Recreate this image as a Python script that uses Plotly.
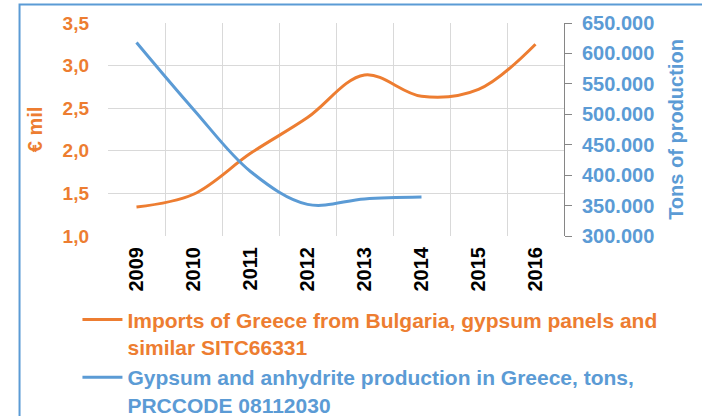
import plotly.graph_objects as go

years = ["2009", "2010", "2011", "2012", "2013", "2014", "2015", "2016"]
imports_eur_mil = [1.34, 1.49, 1.97, 2.39, 2.89, 2.64, 2.72, 3.25]
prod_years = ["2009", "2010", "2011", "2012", "2013", "2014"]
production_tons = [618000, 508000, 406000, 352000, 361000, 364000]

ORANGE = "#ED7D31"
BLUE = "#5B9BD5"
FONT = "Liberation Sans"

name1 = "<span style='color:%s'>Imports of Greece from Bulgaria, gypsum panels and<br>similar SITC66331</span>" % ORANGE
name2 = "<span style='color:%s'>Gypsum and anhydrite production in Greece, tons,<br>PRCCODE 08112030</span>" % BLUE

fig = go.Figure()
fig.add_trace(go.Scatter(
    x=years, y=imports_eur_mil, mode="lines", name=name1,
    line=dict(color=ORANGE, width=3, shape="spline", smoothing=1.0),
    yaxis="y",
))
fig.add_trace(go.Scatter(
    x=prod_years, y=production_tons, mode="lines", name=name2,
    line=dict(color=BLUE, width=3, shape="spline", smoothing=1.0),
    yaxis="y2",
))

fig.update_layout(
    width=702, height=416,
    margin=dict(l=108, r=138, t=23, b=180, autoexpand=False),
    paper_bgcolor="white", plot_bgcolor="white",
    separators=",.",
    font=dict(family=FONT, size=20, color="black", weight="bold"),
    showlegend=True,
    legend=dict(
        x=-0.067, y=-0.298, xanchor="left", yanchor="top",
        font=dict(family=FONT, size=21, weight="bold"),
        bgcolor="rgba(0,0,0,0)", borderwidth=0,
        tracegroupgap=0, valign="top", itemwidth=40,
    ),
    xaxis=dict(
        type="category", categoryorder="array", categoryarray=years,
        range=[-0.5, 7.5], automargin=False,
        tickson="boundaries", ticks="",
        showgrid=True, gridcolor="#D9D9D9", gridwidth=1,
        showline=False, zeroline=False,
        tickangle=-90, ticklabelstandoff=6,
        tickfont=dict(family=FONT, size=20, color="black", weight="bold"),
    ),
    yaxis=dict(
        range=[1, 3.5], dtick=0.5, tick0=1, tickformat=".1f", automargin=False,
        showgrid=True, gridcolor="#D9D9D9", gridwidth=1,
        showline=False, zeroline=False, ticks="",
        ticklabelstandoff=18,
        tickfont=dict(family=FONT, size=19, color=ORANGE, weight="bold"),
        title=dict(text="€ mil", standoff=14,
                   font=dict(family=FONT, size=20, color=ORANGE, weight="bold")),
    ),
    yaxis2=dict(
        range=[300000, 650000], dtick=50000, tick0=300000, tickformat=",.0f",
        overlaying="y", side="right", automargin=False,
        showgrid=False, zeroline=False,
        showline=True, linecolor="#868686", linewidth=1,
        ticks="outside", ticklen=7, tickcolor="#868686",
        ticklabelstandoff=6,
        tickfont=dict(family=FONT, size=20, color=BLUE, weight="bold"),
        title=dict(text="Tons of production", standoff=15,
                   font=dict(family=FONT, size=20, color=BLUE, weight="bold")),
    ),
    shapes=[dict(
        type="rect", xref="paper", yref="paper",
        x0=-0.194, x1=1.6, y0=-1.2, y1=1.087,
        line=dict(color=BLUE, width=2), fillcolor="rgba(0,0,0,0)", layer="below",
    )],
)

fig.write_html("out.html", config={"displayModeBar": False},
               post_script="document.body.style.margin='0';")
